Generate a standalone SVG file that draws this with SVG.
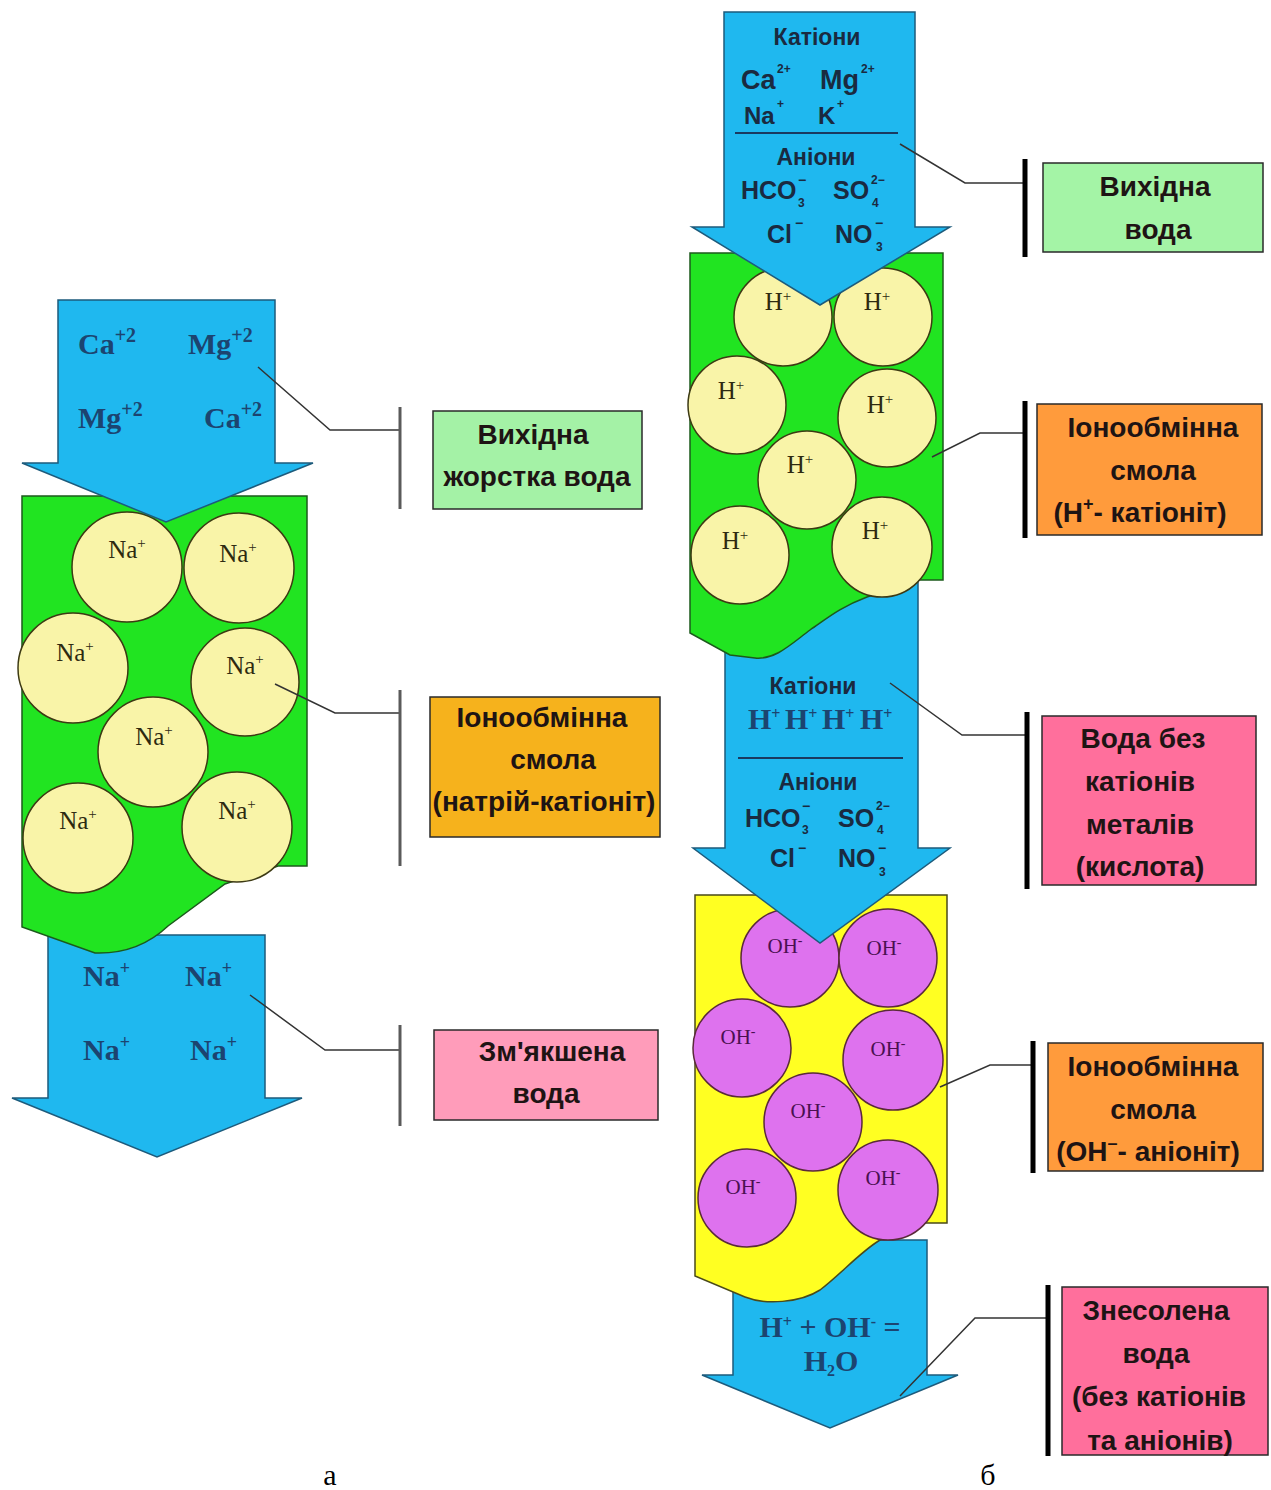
<svg xmlns="http://www.w3.org/2000/svg" width="1271" height="1490" viewBox="0 0 1271 1490">
<style>
.arrow{fill:#1FB8EF;stroke:#1D5B7C;stroke-width:1.5;stroke-linejoin:miter}
.green{fill:#21E421;stroke:#1C5A1C;stroke-width:1.5}
.yellow{fill:#FFFF22;stroke:#4A4A1A;stroke-width:1.5}
.bead{fill:#F9F4A8;stroke:#3D3A14;stroke-width:1.5}
.bead2{fill:#DE72EE;stroke:#5A2A3A;stroke-width:1.5}
.ionS{font-family:"Liberation Serif",serif;font-size:25px;fill:#2E2A10}
.ionO{font-family:"Liberation Serif",serif;font-size:21px;fill:#4A1050}
.arT{font-family:"Liberation Serif",serif;font-weight:bold;font-size:30px;fill:#1C4470}
.arS{font-family:"Liberation Sans",Arial,sans-serif;font-weight:bold;fill:#1A2A40}
.lbl{font-family:"Liberation Sans",Arial,sans-serif;font-weight:bold;font-size:28px;fill:#1E1414;text-anchor:middle}
.lead{fill:none;stroke:#333;stroke-width:1.5}
.brkL{stroke:#5A5A5A;stroke-width:3}
.brkR{stroke:#000;stroke-width:5}
.bx{stroke:#2A2A2A;stroke-width:1.5}
.cap{font-family:"Liberation Serif",serif;font-size:30px;fill:#000;text-anchor:middle}
</style>

<!-- ===== Left column: Na-cation softening ===== -->
<g id="left-out-arrow">
  <path class="arrow" d="M48,935 L265,935 L265,1098 L302,1098 L157,1157 L12,1098 L48,1098 Z"/>
  <text class="arT" x="83" y="986">Na<tspan font-size="18" dy="-12">+</tspan></text>
  <text class="arT" x="185" y="986">Na<tspan font-size="18" dy="-12">+</tspan></text>
  <text class="arT" x="83" y="1060">Na<tspan font-size="18" dy="-12">+</tspan></text>
  <text class="arT" x="190" y="1060">Na<tspan font-size="18" dy="-12">+</tspan></text>
</g>

<g id="left-resin">
  <path class="green" d="M22,496 L307,496 L307,866 L278,866 L225,884 L168,926 C150,943 125,954 95,953 L22,927 Z"/>
  <circle class="bead" cx="127" cy="567" r="55"/>
  <circle class="bead" cx="239" cy="568" r="55"/>
  <circle class="bead" cx="73" cy="668" r="55"/>
  <circle class="bead" cx="245" cy="682" r="54"/>
  <circle class="bead" cx="153" cy="752" r="55"/>
  <circle class="bead" cx="78" cy="838" r="55"/>
  <circle class="bead" cx="237" cy="827" r="55"/>
  <g class="ionS" text-anchor="middle">
    <text x="127" y="558">Na<tspan font-size="15" dy="-10">+</tspan></text>
    <text x="238" y="562">Na<tspan font-size="15" dy="-10">+</tspan></text>
    <text x="75" y="661">Na<tspan font-size="15" dy="-10">+</tspan></text>
    <text x="245" y="674">Na<tspan font-size="15" dy="-10">+</tspan></text>
    <text x="154" y="745">Na<tspan font-size="15" dy="-10">+</tspan></text>
    <text x="78" y="829">Na<tspan font-size="15" dy="-10">+</tspan></text>
    <text x="237" y="819">Na<tspan font-size="15" dy="-10">+</tspan></text>
  </g>
</g>

<g id="left-in-arrow">
  <path class="arrow" d="M58,300 L275,300 L275,463 L313,463 L166,522 L22,463 L58,463 Z"/>
  <text class="arT" x="78" y="354">Ca<tspan font-size="20" dy="-12">+2</tspan></text>
  <text class="arT" x="188" y="354">Mg<tspan font-size="20" dy="-12">+2</tspan></text>
  <text class="arT" x="78" y="428">Mg<tspan font-size="20" dy="-12">+2</tspan></text>
  <text class="arT" x="204" y="428">Ca<tspan font-size="20" dy="-12">+2</tspan></text>
</g>

<!-- ===== Right column: H-cation / OH-anion demineralisation ===== -->
<g id="right-out-arrow">
  <path class="arrow" d="M733,1240 L927,1240 L927,1375 L958,1375 L830,1428 L702,1375 L733,1375 Z"/>
  <text class="arT" font-size="26" x="830" y="1337" text-anchor="middle">H<tspan font-size="16" dy="-10">+</tspan><tspan dy="10"> + OH</tspan><tspan font-size="16" dy="-10">-</tspan><tspan dy="10"> =</tspan></text>
  <text class="arT" font-size="26" x="831" y="1371" text-anchor="middle">H<tspan font-size="16" dy="5">2</tspan><tspan dy="-5">O</tspan></text>
</g>

<g id="anion-resin">
  <path class="yellow" d="M695,895 L947,895 L947,1223 L925,1223 L880,1240 C860,1252 840,1275 820,1290 C800,1303 765,1305 745,1297 L695,1276 Z"/>
  <circle class="bead2" cx="790" cy="958" r="49"/>
  <circle class="bead2" cx="888" cy="958" r="49"/>
  <circle class="bead2" cx="742" cy="1048" r="49"/>
  <circle class="bead2" cx="893" cy="1060" r="50"/>
  <circle class="bead2" cx="813" cy="1122" r="49"/>
  <circle class="bead2" cx="747" cy="1198" r="49"/>
  <circle class="bead2" cx="888" cy="1190" r="50"/>
  <g class="ionO" text-anchor="middle">
    <text x="785" y="953">OH<tspan font-size="14" dy="-8">-</tspan></text>
    <text x="884" y="955">OH<tspan font-size="14" dy="-8">-</tspan></text>
    <text x="738" y="1044">OH<tspan font-size="14" dy="-8">-</tspan></text>
    <text x="888" y="1056">OH<tspan font-size="14" dy="-8">-</tspan></text>
    <text x="808" y="1118">OH<tspan font-size="14" dy="-8">-</tspan></text>
    <text x="743" y="1194">OH<tspan font-size="14" dy="-8">-</tspan></text>
    <text x="883" y="1185">OH<tspan font-size="14" dy="-8">-</tspan></text>
  </g>
</g>

<g id="acid-arrow">
  <path class="arrow" d="M725,575 L918,575 L918,848 L950,848 L820,943 L693,848 L725,848 Z"/>
  <text class="arS" font-size="23" x="813" y="694" text-anchor="middle">Катіони</text>
  <g class="arT" font-size="27">
    <text x="748" y="729">H<tspan font-size="16" dy="-10">+</tspan></text>
    <text x="785" y="729">H<tspan font-size="16" dy="-10">+</tspan></text>
    <text x="822" y="729">H<tspan font-size="16" dy="-10">+</tspan></text>
    <text x="860" y="729">H<tspan font-size="16" dy="-10">+</tspan></text>
  </g>
  <line x1="738" y1="758" x2="903" y2="758" stroke="#1A3A60" stroke-width="2"/>
  <text class="arS" font-size="23" x="818" y="790" text-anchor="middle">Аніони</text>
  <g class="arS" font-size="25">
    <text x="745" y="827">HCO</text>
    <text x="802" y="834" font-size="12">3</text>
    <text x="802" y="811" font-size="14">−</text>
    <text x="838" y="827">SO</text>
    <text x="876" y="810" font-size="12">2−</text>
    <text x="877" y="834" font-size="12">4</text>
    <text x="770" y="867">Cl</text>
    <text x="798" y="853" font-size="14">−</text>
    <text x="838" y="867">NO</text>
    <text x="878" y="853" font-size="14">−</text>
    <text x="879" y="876" font-size="12">3</text>
  </g>
</g>

<g id="cation-resin">
  <path class="green" d="M690,253 L943,253 L943,580 L918,580 L867,597 C840,607 825,620 810,630 C790,645 775,660 755,658 L730,655 L690,633 Z"/>
  <circle class="bead" cx="783" cy="317" r="49"/>
  <circle class="bead" cx="883" cy="317" r="49"/>
  <circle class="bead" cx="737" cy="405" r="49"/>
  <circle class="bead" cx="887" cy="418" r="49"/>
  <circle class="bead" cx="807" cy="480" r="49"/>
  <circle class="bead" cx="740" cy="555" r="49"/>
  <circle class="bead" cx="882" cy="547" r="50"/>
  <g class="ionS" font-size="23" text-anchor="middle">
    <text x="778" y="310">H<tspan font-size="15" dy="-9">+</tspan></text>
    <text x="877" y="310">H<tspan font-size="15" dy="-9">+</tspan></text>
    <text x="731" y="399">H<tspan font-size="15" dy="-9">+</tspan></text>
    <text x="880" y="413">H<tspan font-size="15" dy="-9">+</tspan></text>
    <text x="800" y="473">H<tspan font-size="15" dy="-9">+</tspan></text>
    <text x="735" y="549">H<tspan font-size="15" dy="-9">+</tspan></text>
    <text x="875" y="539">H<tspan font-size="15" dy="-9">+</tspan></text>
  </g>
</g>

<g id="raw-arrow">
  <path class="arrow" d="M724,12 L915,12 L915,227 L950,227 L820,305 L692,227 L724,227 Z"/>
  <text class="arS" font-size="23" x="817" y="45" text-anchor="middle">Катіони</text>
  <g class="arS" font-size="27">
    <text x="741" y="89">Ca</text>
    <text x="777" y="73" font-size="12">2+</text>
    <text x="820" y="89">Mg</text>
    <text x="861" y="73" font-size="12">2+</text>
  </g>
  <g class="arS" font-size="24">
    <text x="744" y="124">Na</text>
    <text x="777" y="108" font-size="12">+</text>
    <text x="818" y="124">K</text>
    <text x="837" y="108" font-size="12">+</text>
  </g>
  <line x1="735" y1="133" x2="898" y2="133" stroke="#1A3A60" stroke-width="2"/>
  <text class="arS" font-size="23" x="816" y="165" text-anchor="middle">Аніони</text>
  <g class="arS" font-size="25">
    <text x="741" y="199">HCO</text>
    <text x="798" y="207" font-size="12">3</text>
    <text x="798" y="185" font-size="14">−</text>
    <text x="833" y="199">SO</text>
    <text x="871" y="184" font-size="12">2−</text>
    <text x="872" y="207" font-size="12">4</text>
    <text x="767" y="243">Cl</text>
    <text x="795" y="228" font-size="14">−</text>
    <text x="835" y="243">NO</text>
    <text x="875" y="228" font-size="14">−</text>
    <text x="876" y="251" font-size="12">3</text>
  </g>
</g>

<!-- ===== Callout leaders ===== -->
<g id="connectors">
  <polyline class="lead" points="258,367 330,430 400,430"/>
  <polyline class="lead" points="275,684 335,713 400,713"/>
  <polyline class="lead" points="250,995 325,1050 400,1050"/>
  <polyline class="lead" points="900,144 965,183 1025,183"/>
  <polyline class="lead" points="932,457 980,433 1025,433"/>
  <polyline class="lead" points="890,683 962,735 1026,735"/>
  <polyline class="lead" points="940,1087 990,1065 1033,1065"/>
  <polyline class="lead" points="900,1396 975,1318 1048,1318"/>
  <line class="brkL" x1="400" y1="407" x2="400" y2="509"/>
  <line class="brkL" x1="400" y1="690" x2="400" y2="866"/>
  <line class="brkL" x1="400" y1="1025" x2="400" y2="1126"/>
  <line class="brkR" x1="1025" y1="159" x2="1025" y2="257"/>
  <line class="brkR" x1="1025" y1="401" x2="1025" y2="538"/>
  <line class="brkR" x1="1027" y1="712" x2="1027" y2="889"/>
  <line class="brkR" x1="1033" y1="1041" x2="1033" y2="1173"/>
  <line class="brkR" x1="1048" y1="1285" x2="1048" y2="1456"/>
</g>

<!-- ===== Labels ===== -->
<g id="label-hard-water">
  <rect class="bx" x="433" y="411" width="209" height="98" fill="#A4F2A6"/>
  <text class="lbl" x="533" y="444">Вихідна</text>
  <text class="lbl" x="537" y="486">жорстка вода</text>
</g>
<g id="label-na-resin">
  <rect class="bx" x="430" y="697" width="230" height="140" fill="#F6B21C"/>
  <text class="lbl" x="542" y="727">Іонообмінна</text>
  <text class="lbl" x="553" y="769">смола</text>
  <text class="lbl" x="544" y="811" font-size="27">(натрій-катіоніт)</text>
</g>
<g id="label-soft-water">
  <rect class="bx" x="434" y="1030" width="224" height="90" fill="#FF9CBA"/>
  <text class="lbl" x="552" y="1061">Зм'якшена</text>
  <text class="lbl" x="546" y="1103">вода</text>
</g>
<g id="label-raw-water">
  <rect class="bx" x="1043" y="163" width="220" height="89" fill="#A4F4A6"/>
  <text class="lbl" x="1155" y="196">Вихідна</text>
  <text class="lbl" x="1158" y="239">вода</text>
</g>
<g id="label-h-resin">
  <rect class="bx" x="1037" y="404" width="225" height="131" fill="#FF9B3C"/>
  <text class="lbl" x="1153" y="437">Іонообмінна</text>
  <text class="lbl" x="1153" y="480">смола</text>
  <text class="lbl" x="1140" y="522">(H<tspan font-size="18" dy="-12">+</tspan><tspan dy="12">- катіоніт)</tspan></text>
</g>
<g id="label-acid-water">
  <rect class="bx" x="1042" y="716" width="214" height="169" fill="#FF6F9C"/>
  <text class="lbl" x="1143" y="748">Вода без</text>
  <text class="lbl" x="1140" y="791">катіонів</text>
  <text class="lbl" x="1140" y="834">металів</text>
  <text class="lbl" x="1140" y="876">(кислота)</text>
</g>
<g id="label-oh-resin">
  <rect class="bx" x="1048" y="1043" width="215" height="128" fill="#FF9B3C"/>
  <text class="lbl" x="1153" y="1076">Іонообмінна</text>
  <text class="lbl" x="1153" y="1119">смола</text>
  <text class="lbl" x="1148" y="1161">(OH<tspan font-size="18" dy="-12">–</tspan><tspan dy="12">- аніоніт)</tspan></text>
</g>
<g id="label-demin-water">
  <rect class="bx" x="1062" y="1287" width="206" height="168" fill="#FF6F9C"/>
  <text class="lbl" x="1156" y="1320">Знесолена</text>
  <text class="lbl" x="1156" y="1363">вода</text>
  <text class="lbl" x="1159" y="1406">(без катіонів</text>
  <text class="lbl" x="1160" y="1450">та аніонів)</text>
</g>

<text class="cap" x="330" y="1485">а</text>
<text class="cap" x="988" y="1485">б</text>
</svg>
